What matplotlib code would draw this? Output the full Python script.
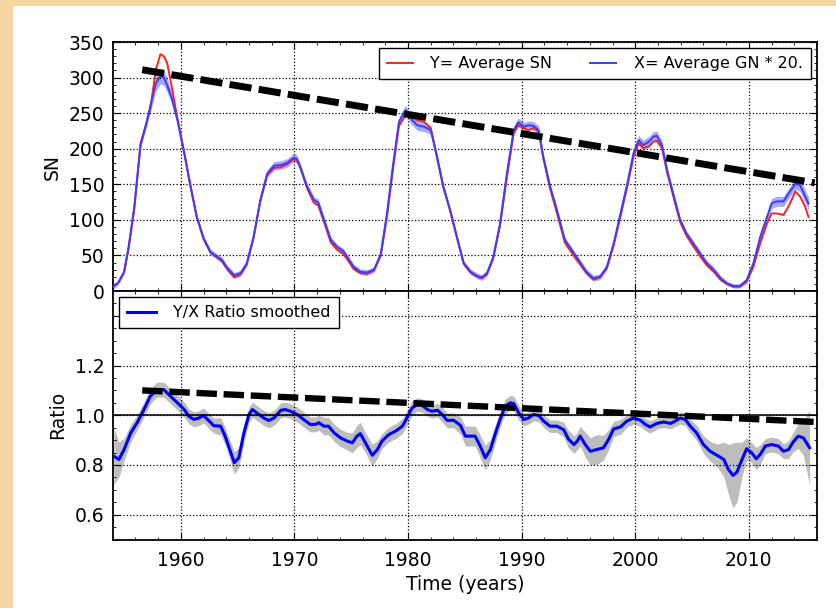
import numpy as np
import matplotlib.pyplot as plt
from matplotlib.patches import Rectangle
from matplotlib.ticker import MultipleLocator

# ---------------------------- data ----------------------------
years_sn = [1954.05, 1954.5, 1955.0, 1955.4, 1955.9, 1956.45, 1956.9, 1957.3, 1957.8, 1958.2,
            1958.5, 1958.8, 1959.2, 1959.7, 1960.3, 1960.85, 1961.4, 1962.0, 1962.6, 1963.2,
            1963.6, 1964.1, 1964.7, 1965.25, 1965.8, 1966.4, 1967.0, 1967.6, 1968.2, 1968.8,
            1969.35, 1969.9, 1970.2, 1970.5, 1971.1, 1971.7, 1972.1, 1972.6, 1973.2, 1973.75,
            1974.3, 1974.8, 1975.2, 1975.8, 1976.4, 1977.0, 1977.6, 1978.15, 1978.7, 1979.2,
            1979.77, 1980.2, 1980.8, 1981.4, 1982.0, 1982.55, 1983.1, 1983.7, 1984.3, 1984.9,
            1985.5, 1986.1, 1986.5, 1986.95, 1987.5, 1988.1, 1988.7, 1989.3, 1989.7, 1990.2,
            1990.6, 1991.05, 1991.5, 1991.9, 1992.5, 1993.1, 1993.8, 1994.6, 1995.2, 1995.7,
            1996.3, 1996.9, 1997.5, 1998.1, 1998.7, 1999.3, 1999.85, 2000.3, 2000.7, 2001.2,
            2001.6, 2001.9, 2002.35, 2002.8, 2003.4, 2003.95, 2004.5, 2005.1, 2005.7, 2006.3,
            2006.9, 2007.5, 2008.05, 2008.65, 2009.2, 2009.8, 2010.4, 2011.0, 2011.6, 2012.0,
            2012.45, 2013.05, 2013.5, 2014.1, 2014.5, 2014.95, 2015.25]

gn20 = [6, 12, 27, 62, 118, 207, 232, 259, 292, 302,
        300, 289, 271, 240, 193, 147, 104, 74, 55, 48,
        44, 32, 22, 25, 39, 76, 128, 165, 176, 177,
        180, 187, 186, 175, 147, 128, 124, 100, 72, 62,
        56, 44, 34, 27, 26, 30, 52, 110, 180, 238,
        254, 243, 233, 231, 226, 189, 147, 114, 76, 39,
        27, 21, 19, 25, 48, 95, 165, 226, 237, 231,
        233, 232, 226, 189, 147, 114, 72, 53, 39, 27,
        18, 20, 34, 67, 109, 151, 194, 212, 205, 210,
        217, 218, 205, 170, 133, 100, 81, 67, 53, 39,
        30, 18, 11, 7, 7, 15, 39, 76, 104, 123,
        126, 126, 137, 151, 149, 133, 123]

sn = [6, 12, 26, 60, 115, 205, 232, 255, 311, 333,
      330, 320, 287, 242, 195, 148, 104, 73, 54, 47,
      42, 30, 19, 23, 37, 75, 127, 163, 173, 174,
      178, 185, 184, 174, 145, 124, 120, 97, 68, 58,
      52, 41, 31, 25, 24, 29, 50, 105, 175, 232,
      247, 245, 240, 238, 229, 187, 146, 113, 75, 38,
      26, 20, 18, 24, 46, 92, 160, 222, 233, 229,
      226, 229, 224, 187, 144, 110, 68, 49, 36, 25,
      16, 19, 32, 64, 105, 147, 189, 208, 201, 203,
      210, 211, 201, 167, 130, 97, 78, 63, 49, 36,
      27, 16, 10, 6, 6, 13, 34, 67, 95, 109,
      109, 107, 119, 140, 133, 119, 104]

gn20_err = [3, 3, 3, 4, 4, 5, 6, 8, 11, 11,
            11, 10, 8, 5, 4, 4, 4, 4, 4, 4,
            4, 4, 4, 4, 4, 4, 4, 5, 6, 6,
            6, 6, 6, 5, 5, 5, 5, 5, 4, 4,
            4, 4, 4, 4, 4, 4, 4, 4, 5, 6,
            7, 7, 7, 7, 6, 5, 4, 4, 4, 4,
            4, 4, 4, 4, 4, 4, 5, 6, 6, 6,
            6, 6, 6, 5, 4, 4, 4, 4, 4, 4,
            4, 4, 4, 4, 4, 5, 6, 7, 7, 7,
            7, 7, 6, 5, 4, 4, 4, 4, 4, 4,
            4, 4, 3, 3, 3, 4, 5, 6, 6, 7,
            7, 7, 7, 8, 9, 9, 9]

years_ratio = [1954.1, 1954.55, 1955.0, 1955.6, 1956.15, 1956.75, 1957.3, 1957.9, 1958.5, 1959.1,
               1959.7, 1960.3, 1960.7, 1961.15, 1961.6, 1962.0, 1962.5, 1962.9, 1963.5, 1963.9,
               1964.4, 1964.7, 1965.1, 1965.55, 1966.0, 1966.3, 1966.7, 1967.3, 1967.75, 1968.2,
               1968.8, 1969.2, 1969.65, 1970.25, 1970.8, 1971.4, 1971.85, 1972.15, 1972.6, 1973.0,
               1973.5, 1974.05, 1974.65, 1975.1, 1975.5, 1975.8, 1976.25, 1976.85, 1977.3, 1977.7,
               1978.3, 1978.9, 1979.5, 1979.9, 1980.35, 1980.8, 1981.25, 1981.7, 1982.1, 1982.6,
               1983.0, 1983.45, 1984.0, 1984.6, 1985.05, 1985.5, 1985.9, 1986.35, 1986.8, 1987.25,
               1987.7, 1988.1, 1988.55, 1989.0, 1989.3, 1989.75, 1990.2, 1990.6, 1991.05, 1991.5,
               1991.95, 1992.5, 1993.1, 1993.7, 1994.1, 1994.6, 1994.9, 1995.15, 1995.6, 1996.05,
               1996.6, 1997.2, 1997.65, 1998.1, 1998.7, 1999.25, 1999.85, 2000.45, 2000.9, 2001.3,
               2001.9, 2002.5, 2003.1, 2003.5, 2003.95, 2004.4, 2004.85, 2005.4, 2006.0, 2006.6,
               2007.2, 2007.8, 2008.2, 2008.6, 2008.95, 2009.4, 2009.8, 2010.25, 2010.65, 2011.0,
               2011.45, 2012.0, 2012.6, 2013.05, 2013.5, 2013.9, 2014.35, 2014.8, 2015.35]

ratio = [0.835, 0.822, 0.862, 0.93, 0.97, 1.023, 1.076, 1.103, 1.103, 1.076,
         1.05, 1.023, 0.996, 0.983, 0.989, 0.999, 0.976, 0.958, 0.956, 0.916,
         0.849, 0.809, 0.829, 0.929, 1.003, 1.023, 1.009, 0.989, 0.979, 0.989,
         1.02, 1.023, 1.016, 1.003, 0.983, 0.963, 0.963, 0.97, 0.956, 0.956,
         0.929, 0.909, 0.896, 0.889, 0.916, 0.926, 0.889, 0.839, 0.862, 0.896,
         0.922, 0.936, 0.956, 0.989, 1.029, 1.043, 1.039, 1.023, 1.016, 1.02,
         1.003, 0.979, 0.98, 0.96, 0.916, 0.916, 0.916, 0.876, 0.829, 0.862,
         0.929, 0.983, 1.036, 1.05, 1.047, 1.009, 0.983, 0.989, 1.003, 0.999,
         0.976, 0.956, 0.956, 0.942, 0.905, 0.882, 0.896, 0.916, 0.882, 0.855,
         0.862, 0.869, 0.902, 0.945, 0.953, 0.976, 0.989, 0.98, 0.963, 0.953,
         0.967, 0.973, 0.967, 0.976, 0.989, 0.983, 0.956, 0.929, 0.882, 0.855,
         0.839, 0.822, 0.782, 0.758, 0.771, 0.822, 0.865, 0.849, 0.825, 0.842,
         0.876, 0.882, 0.876, 0.855, 0.862, 0.892, 0.916, 0.909, 0.869]

ratio_err = [0.115, 0.07, 0.045, 0.035, 0.03, 0.03, 0.03, 0.03, 0.03, 0.03,
             0.03, 0.03, 0.03, 0.03, 0.03, 0.03, 0.03, 0.03, 0.035, 0.035,
             0.04, 0.045, 0.04, 0.035, 0.03, 0.03, 0.03, 0.03, 0.03, 0.03,
             0.03, 0.03, 0.03, 0.03, 0.03, 0.03, 0.03, 0.03, 0.035, 0.035,
             0.035, 0.035, 0.035, 0.04, 0.045, 0.045, 0.04, 0.045, 0.035, 0.03,
             0.03, 0.03, 0.03, 0.03, 0.03, 0.027, 0.027, 0.027, 0.027, 0.027,
             0.03, 0.03, 0.03, 0.035, 0.04, 0.04, 0.04, 0.045, 0.05, 0.04,
             0.035, 0.03, 0.03, 0.03, 0.03, 0.03, 0.025, 0.025, 0.025, 0.025,
             0.025, 0.025, 0.025, 0.03, 0.035, 0.035, 0.035, 0.04, 0.05, 0.055,
             0.06, 0.05, 0.04, 0.03, 0.03, 0.025, 0.025, 0.025, 0.025, 0.025,
             0.022, 0.022, 0.022, 0.022, 0.025, 0.025, 0.028, 0.03, 0.035, 0.04,
             0.045, 0.07, 0.1, 0.13, 0.12, 0.07, 0.045, 0.04, 0.045, 0.04,
             0.03, 0.03, 0.03, 0.03, 0.035, 0.04, 0.05, 0.07, 0.15]

trend_years = [1956.6, 2015.8]
trend_sn = [311, 152]
trend_ratio = [1.10, 0.973]

# ---------------------------- style ----------------------------
plt.rcParams['font.family'] = 'DejaVu Sans'
plt.rcParams['xtick.direction'] = 'in'
plt.rcParams['ytick.direction'] = 'in'
plt.rcParams['xtick.top'] = True
plt.rcParams['ytick.right'] = True
plt.rcParams['xtick.major.size'] = 5
plt.rcParams['ytick.major.size'] = 5
plt.rcParams['xtick.minor.size'] = 2.5
plt.rcParams['ytick.minor.size'] = 2.5
plt.rcParams['xtick.major.pad'] = 8
plt.rcParams['ytick.major.pad'] = 6

fig = plt.figure(figsize=(8.37, 6.08), dpi=100, facecolor='#f4d7a2')
fig.patches.append(Rectangle((13/837, 0), 1, 1 - 6/608, transform=fig.transFigure,
                             facecolor='white', edgecolor='none', zorder=-5))

left, right = 112.7/837, 817/837
ax1 = fig.add_axes([left, 1 - 291/608, right - left, (291 - 42)/608])
ax2 = fig.add_axes([left, 1 - 539.5/608, right - left, (539.5 - 291)/608], sharex=ax1)

trend_style = (0, (3.2, 1.05))

# top panel
y_gn = np.array(gn20)
e_gn = np.array(gn20_err)
ax1.fill_between(years_sn, y_gn - e_gn, y_gn + e_gn, color='#6f6fff', alpha=0.6, lw=0, zorder=2)
ax1.plot(years_sn, sn, color='#ff2020', lw=1.4, label='Y= Average SN', zorder=3)
ax1.plot(years_sn, gn20, color='#3c3cff', lw=1.4, label='X= Average GN * 20.', zorder=4)
ax1.plot(trend_years, trend_sn, color='black', lw=5, linestyle=trend_style, zorder=5)
ax1.set_ylim(0, 350)
ax1.set_yticks(np.arange(0, 351, 50))
ax1.yaxis.set_minor_locator(MultipleLocator(10))
ax1.set_ylabel('SN', fontsize=13.5)
ax1.grid(True, color='black', linestyle=':', lw=0.9)
ax1.tick_params(labelbottom=False, labelsize=13.5)
leg1 = ax1.legend(loc='upper right', ncol=2, fontsize=11.5, fancybox=False,
                  edgecolor='black', framealpha=1, borderaxespad=0.4,
                  columnspacing=2.4, handlelength=1.6, handletextpad=1.1, borderpad=0.5)
leg1.get_frame().set_linewidth(1.0)

# bottom panel
y_r = np.array(ratio)
e_r = np.array(ratio_err)
ax2.fill_between(years_ratio, y_r - e_r, y_r + e_r, color='#bdbdbd', lw=0, zorder=2)
ax2.plot(years_ratio, ratio, color='#0000ff', lw=2.2, label='Y/X Ratio smoothed', zorder=3)
ax2.axhline(1.0, color='black', lw=1.1, zorder=4)
ax2.plot(trend_years, trend_ratio, color='black', lw=4.6, linestyle=trend_style, zorder=5)
ax2.set_ylim(0.5, 1.5)
ax2.set_yticks([0.6, 0.8, 1.0, 1.2, 1.4])
ax2.set_yticklabels(['0.6', '0.8', '1.0', '1.2', ''])
ax2.yaxis.set_minor_locator(MultipleLocator(0.05))
ax2.set_xlim(1954, 2016)
ax2.set_xticks(np.arange(1960, 2011, 10))
ax2.xaxis.set_minor_locator(MultipleLocator(2))
ax2.set_ylabel('Ratio', fontsize=13.5)
ax2.set_xlabel('Time (years)', fontsize=13.5)
ax2.grid(True, color='black', linestyle=':', lw=0.9)
ax2.tick_params(labelsize=13.5)
leg2 = ax2.legend(loc='upper left', fontsize=11.5, fancybox=False, edgecolor='black',
                  framealpha=1, borderaxespad=0.4, handlelength=1.8, handletextpad=1.1,
                  borderpad=0.5)
leg2.get_frame().set_linewidth(1.0)

for ax in (ax1, ax2):
    for s in ax.spines.values():
        s.set_linewidth(1.3)
    ax.set_axisbelow(False)

ax1.yaxis.set_label_coords(-0.072, 0.5)
ax2.yaxis.set_label_coords(-0.065, 0.5)

fig.savefig('out.png', dpi=100, facecolor=fig.get_facecolor())
